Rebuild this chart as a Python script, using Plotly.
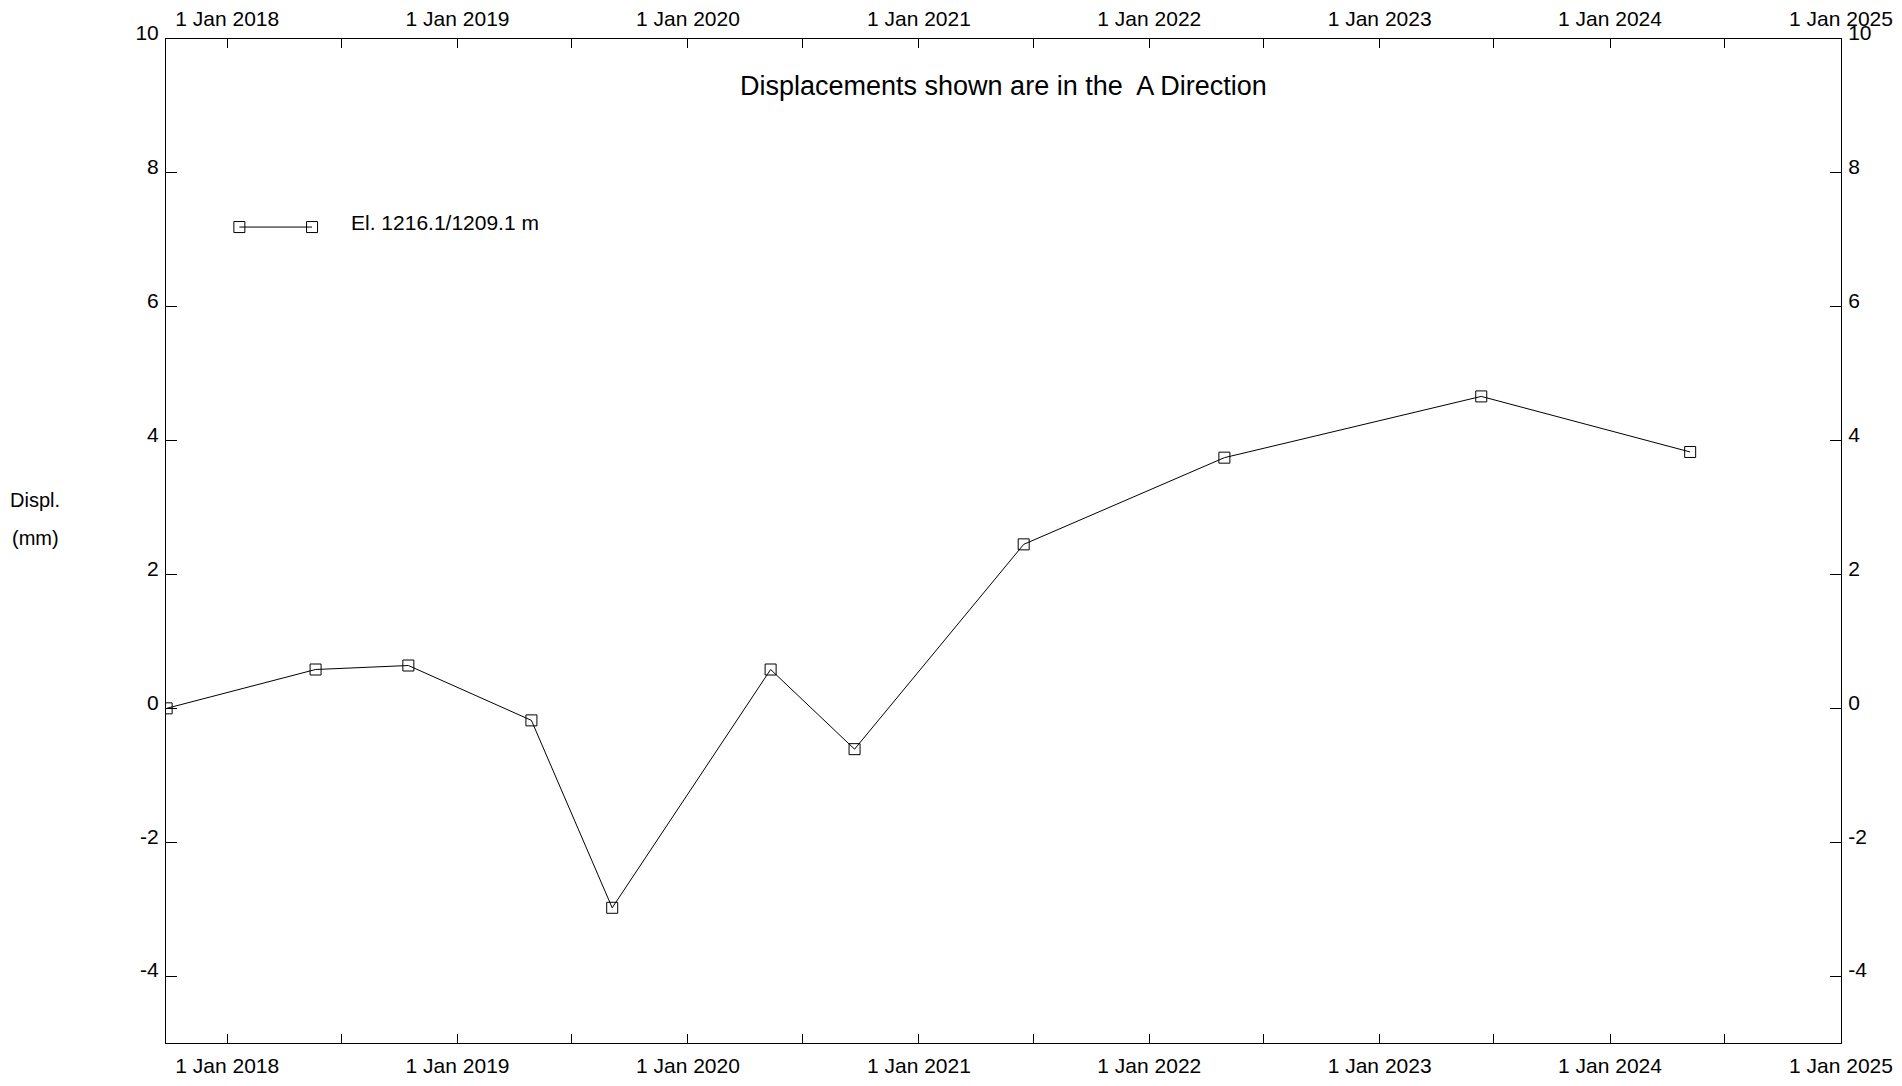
import plotly.graph_objects as go

# ---- data ----
DATES = ["2017-09-27", "2018-05-21", "2018-10-15", "2019-04-28", "2019-09-03",
         "2020-05-11", "2020-09-21", "2021-06-16", "2022-04-30", "2023-06-11",
         "2024-05-07"]
DISPL = [0.0, 0.58, 0.64, -0.18, -2.98, 0.58, -0.61, 2.45, 3.745, 4.66, 3.83]
SERIES_NAME = "El. 1216.1/1209.1 m"
TITLE = "Displacements shown are in the\u00a0 A Direction"
Y_TITLE_LINES = ["Displ.", "(mm)"]
Y_TICKS = [-4, -2, 0, 2, 4, 6, 8, 10]
Y_TICK_LABELS = ["-4", "-2", "0", "2", "4", "6", "8", "10"]
X_RANGE = ["2017-09-26", "2025-01-01"]
Y_RANGE = [-5, 10]

# ---- layout constants ----
W, H = 1902, 1086
ML, MR, MT, MB = 166, 61, 39, 43
FONT = "Liberation Sans, Arial, sans-serif"
TICK_FONT = dict(family=FONT, size=21, color="black")

# legend key placement (paper fractions)
LEG_KEY_X = [0.0438, 0.0872]
LEG_KEY_Y = [0.8127, 0.8127]
LEG_TEXT_X, LEG_TEXT_Y = 0.1091, 0.8172

fig = go.Figure()

marker = dict(symbol="square-open", size=11, color="black", line=dict(width=1, color="black"))

fig.add_trace(go.Scatter(
    x=DATES, y=DISPL, mode="lines+markers", name=SERIES_NAME,
    line=dict(color="black", width=1), marker=marker, showlegend=False,
))
# helper trace so the mirrored (top/right) axes render
fig.add_trace(go.Scatter(
    x=DATES, y=DISPL, xaxis="x2", yaxis="y2", mode="markers",
    marker=dict(opacity=0), hoverinfo="skip", showlegend=False,
))
# legend key
fig.add_trace(go.Scatter(
    x=LEG_KEY_X, y=LEG_KEY_Y, xaxis="x3", yaxis="y3", mode="lines+markers",
    line=dict(color="black", width=1), marker=marker, hoverinfo="skip", showlegend=False,
))

xcommon = dict(
    type="date", range=X_RANGE, showline=True, linecolor="black", linewidth=1,
    ticks="inside", ticklen=9, tickwidth=1, tickcolor="black",
    dtick="M12", tick0="2018-01-01", tickformat="%-d %b %Y",
    minor=dict(dtick="M6", tick0="2018-01-01", ticks="inside", ticklen=9,
               tickwidth=1, tickcolor="black", showgrid=False),
    showgrid=False, zeroline=False, tickfont=TICK_FONT, ticklabelstandoff=4,
    automargin=False,
)
ycommon = dict(
    range=Y_RANGE, showline=True, linecolor="black", linewidth=1,
    ticks="inside", ticklen=11, tickwidth=1, tickcolor="black",
    tickvals=Y_TICKS, ticktext=Y_TICK_LABELS,
    showgrid=False, zeroline=False, tickfont=TICK_FONT, ticklabelshift=-6,
    ticklabelstandoff=2, automargin=False,
)

fig.update_layout(
    width=W, height=H, autosize=False,
    margin=dict(l=ML, r=MR, t=MT, b=MB, pad=0, autoexpand=False),
    paper_bgcolor="white", plot_bgcolor="white",
    font=dict(family=FONT, color="black"),
    showlegend=False,
    xaxis=dict(side="bottom", **xcommon),
    xaxis2=dict(side="top", overlaying="x", **xcommon),
    xaxis3=dict(overlaying="x", range=[0, 1], visible=False),
    yaxis=dict(side="left", **ycommon),
    yaxis2=dict(side="right", overlaying="y", **ycommon),
    yaxis3=dict(overlaying="y", range=[0, 1], visible=False),
    annotations=[
        dict(text=TITLE, xref="paper", yref="paper", x=0.5, y=0.953,
             xanchor="center", yanchor="middle", showarrow=False,
             font=dict(family=FONT, size=27, color="black")),
        dict(text=SERIES_NAME, xref="paper", yref="paper", x=LEG_TEXT_X, y=LEG_TEXT_Y,
             xanchor="left", yanchor="middle", showarrow=False,
             font=dict(family=FONT, size=21, color="black")),
        dict(text=Y_TITLE_LINES[0], xref="paper", yref="paper", x=-0.0782, y=0.541,
             xanchor="center", yanchor="middle", showarrow=False,
             font=dict(family=FONT, size=20, color="black")),
        dict(text=Y_TITLE_LINES[1], xref="paper", yref="paper", x=-0.0782, y=0.503,
             xanchor="center", yanchor="middle", showarrow=False,
             font=dict(family=FONT, size=20, color="black")),
    ],
)

fig.write_html("out.html", config={"displayModeBar": False},
               post_script="document.body.style.margin='0';")
